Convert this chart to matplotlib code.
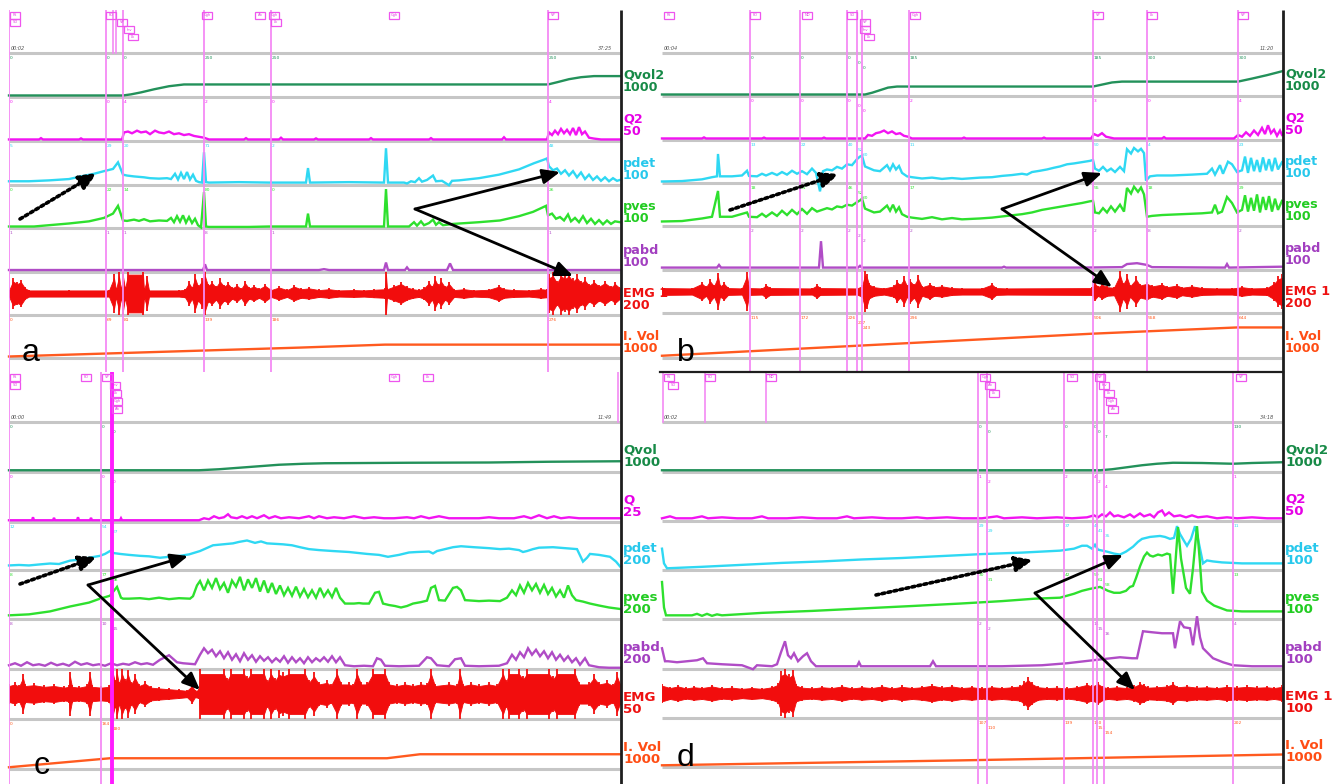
import numpy as np
import matplotlib
matplotlib.use("Agg")
import matplotlib.pyplot as plt
from matplotlib.patches import Rectangle

# ======================= DATA =======================
# time = samples from the start of each recording window, values in channel units
KINDS = ["qvol", "q", "pdet", "pves", "pabd", "emg", "ivol"]

NAMES_A = ["Qvol2", "Q2", "pdet", "pves", "pabd", "EMG 1", "I. Vol"]
SCALES_A = [1000, 50, 100, 100, 100, 200, 1000]
NAMES_B = ["Qvol2", "Q2", "pdet", "pves", "pabd", "EMG 1", "I. Vol"]
SCALES_B = [1000, 50, 100, 100, 100, 200, 1000]
NAMES_C = ["Qvol", "Q", "pdet", "pves", "pabd", "EMG", "I. Vol"]
SCALES_C = [1000, 25, 200, 200, 200, 50, 1000]
NAMES_D = ["Qvol2", "Q2", "pdet", "pves", "pabd", "EMG 1", "I. Vol"]
SCALES_D = [1000, 50, 100, 100, 100, 100, 1000]

TIMES_A = ("00:02", "37:25")
TIMES_B = ("00:04", "11:20")
TIMES_C = ("00:00", "11:49")
TIMES_D = ("00:02", "34:18")

# ---------- panel a ----------
A_QVOL = [(0, 0), (114, 0), (122, 25), (132, 70), (145, 140), (160, 210), (175, 250), (539, 250),
          (548, 300), (560, 370), (572, 415), (585, 440), (611, 440)]
A_Q = [(0, 0), (30, 0), (32, 1.5), (34, 0), (70, 0), (72, 1.2), (74, 0), (113, 0), (115, 8), (119, 9),
       (123, 7), (128, 10), (132, 8), (137, 9), (141, 6), (146, 10), (150, 8), (155, 7), (160, 9),
       (165, 6), (170, 7), (175, 5), (180, 6), (185, 4), (190, 3), (195, 2), (200, 0), (235, 0),
       (237, 1.5), (239, 0), (270, 0), (272, 2), (274, 0), (305, 0), (307, 1.2), (309, 0), (360, 0),
       (362, 1.5), (364, 0), (420, 0), (422, 1.5), (424, 0), (493, 0), (495, 2.5), (497, 0), (538, 0),
       (540, 8), (543, 5), (546, 10), (549, 6), (552, 12), (555, 7), (558, 11), (561, 6), (564, 13),
       (567, 5), (570, 14), (573, 6), (576, 9), (580, 2), (585, 1), (592, 0), (611, 0)]
A_PDET = [(0, 5), (20, 5), (40, 7), (60, 10), (74, 17), (85, 22), (95, 28), (104, 33), (109, 48),
          (114, 20), (118, 18), (125, 16), (135, 14), (141, 12), (150, 11), (158, 12), (162, 10),
          (166, 22), (169, 9), (172, 24), (175, 10), (178, 26), (181, 9), (184, 20), (187, 6), (190, 3),
          (193, 2), (195, 71), (197, 3), (200, 2), (230, 3), (260, 2), (297, 2), (299, 35), (301, 2),
          (340, 3), (375, 2), (377, 80), (379, 2), (395, 2), (398, 0), (402, 5), (406, 3), (410, 12),
          (413, 4), (418, 8), (424, 18), (427, 5), (433, 6), (440, -4), (443, 6), (450, 7), (470, 12),
          (490, 20), (510, 32), (525, 46), (536, 55), (538, 57), (540, 39), (544, 30), (548, 34),
          (552, 22), (556, 30), (560, 18), (564, 28), (568, 14), (572, 25), (576, 10), (580, 20),
          (584, 8), (588, 16), (592, 6), (596, 14), (600, 5), (604, 12), (608, 6), (611, 8)]
A_PVES = [(0, 0), (25, 0), (40, 3), (60, 7), (80, 12), (95, 20), (104, 30), (109, 48), (114, 14),
          (118, 13), (125, 16), (130, 13), (135, 17), (141, 12), (150, 14), (158, 13), (162, 20),
          (165, 10), (168, 24), (171, 11), (174, 26), (177, 9), (180, 22), (183, 8), (186, 18), (189, 3),
          (192, -2), (195, 80), (197, 0), (200, -1), (240, -1), (260, 0), (297, 0), (299, 30), (301, 0),
          (375, 0), (377, 87), (379, 0), (400, 0), (405, 10), (408, 2), (412, 12), (415, 3), (420, 8),
          (424, 16), (427, 4), (430, 10), (434, 3), (444, 6), (470, 10), (491, 14), (510, 24), (524, 34),
          (537, 48), (539, 26), (543, 30), (547, 18), (551, 22), (555, 14), (559, 28), (562, 12),
          (566, 20), (570, 10), (574, 24), (578, 8), (582, 18), (586, 6), (590, 15), (594, 5), (598, 14),
          (602, 6), (606, 12), (611, 10)]
A_PABD = [(0, 1), (194, 1), (196, 14), (198, 1), (310, 1), (315, 3), (320, 1), (375, 1), (377, 18),
          (379, 1), (396, 1), (398, 7), (400, 1), (438, 1), (441, 16), (444, 1), (611, 1)]
A_EMG = [(0, 18), (4, 70), (8, 55), (12, 65), (16, 30), (20, 18), (60, 18), (100, 18), (105, 90),
         (107, 20), (110, 100), (112, 20), (114, 100), (116, 25), (119, 110), (134, 110), (135, 20),
         (138, 80), (140, 18), (170, 18), (176, 22), (180, 60), (183, 30), (186, 90), (189, 40), (193, 70),
         (196, 100), (199, 45), (203, 60), (207, 35), (211, 70), (215, 40), (219, 55), (223, 30), (228, 45),
         (232, 25), (236, 60), (240, 30), (245, 40), (250, 25), (256, 45), (262, 20), (270, 35), (278, 20),
         (285, 40), (292, 25), (300, 30), (310, 20), (320, 25), (330, 18), (345, 20), (355, 18), (365, 22),
         (376, 25), (377, 110), (378, 25), (385, 40), (392, 55), (398, 35), (404, 25), (410, 20), (415, 30),
         (420, 60), (423, 35), (426, 80), (429, 45), (432, 70), (436, 35), (440, 55), (445, 20), (455, 25),
         (465, 18), (480, 22), (490, 40), (495, 25), (505, 20), (520, 18), (532, 25), (538, 22), (540, 90),
         (544, 100), (548, 60), (552, 100), (556, 85), (560, 100), (564, 70), (568, 90), (572, 60),
         (576, 75), (580, 45), (585, 65), (590, 40), (596, 60), (602, 35), (606, 55), (611, 30)]
A_IVOL = [(0, 0), (291, 207), (376, 276), (611, 276)]
A_EVENTS = [0, 97, 114, 195, 262, 539]
A_EVENTS_TOP = [104, 107]
A_THICK = []
A_BOXES = [(1, 0, "FS"), (1, 1, "SD"), (97, 0, "FD"), (108, 1, "VP"), (115, 2, "Inv"), (119, 3, "Lk"),
           (193, 0, "Cgh"), (246, 0, "Ab"), (260, 0, "Cgh"), (262, 1, "Lk"), (380, 0, "Cgh"), (539, 0, "VP")]

# ---------- panel b ----------
B_QVOL = [(0, 0), (203, 0), (210, 40), (218, 100), (226, 160), (235, 185), (431, 185), (440, 230),
          (450, 280), (460, 300), (576, 300), (590, 370), (605, 450), (620, 540)]
B_Q = [(0, 0), (40, 0), (42, 1.2), (44, 0), (100, 0), (102, 1), (104, 0), (160, 0), (162, 1), (164, 0),
       (203, 0), (206, 4), (210, 3), (214, 6), (218, 7), (222, 9), (226, 6), (230, 8), (234, 5), (238, 6),
       (242, 3), (246, 2), (250, 0), (300, 0), (302, 1), (304, 0), (380, 0), (382, 1), (384, 0), (429, 0),
       (432, 5), (436, 3), (440, 6), (444, 2), (448, 1), (452, 0), (500, 0), (502, 1.5), (504, 0),
       (572, 0), (576, 4), (580, 2), (584, 7), (588, 3), (592, 9), (596, 4), (600, 12), (603, 5),
       (606, 15), (609, 6), (612, 10), (615, 3), (618, 9), (620, 4)]
B_PDET = [(0, 0), (20, 1), (40, 5), (50, 10), (55, 12), (56, 64), (58, 12), (70, 12), (80, 14), (85, 25),
          (87, 13), (95, 12), (100, 18), (104, 14), (110, 20), (115, 15), (120, 22), (125, 16), (130, 25),
          (135, 18), (140, 24), (145, 17), (150, 30), (154, 20), (158, -23), (161, 24), (165, 28),
          (170, 26), (175, 34), (180, 30), (185, 40), (190, 38), (195, 52), (198, 58), (200, 60),
          (203, 35), (208, 30), (212, 26), (218, 24), (225, 38), (228, 26), (231, 40), (234, 28),
          (237, 36), (240, 20), (245, 12), (250, 10), (260, 7), (270, 9), (280, 6), (290, 8), (300, 6),
          (318, 9), (330, 10), (340, 13), (350, 15), (360, 18), (365, 16), (370, 22), (378, 25), (385, 28),
          (392, 32), (398, 35), (405, 40), (412, 42), (420, 45), (428, 48), (431, 50), (433, 30),
          (437, 25), (441, 34), (445, 24), (449, 30), (453, 22), (458, 34), (462, 24), (465, 75),
          (469, 65), (472, 78), (476, 70), (479, 76), (482, 66), (484, 2), (488, 12), (495, 14), (510, 14),
          (530, 16), (545, 18), (550, 30), (553, 16), (558, 38), (561, 18), (566, 46), (570, 40),
          (575, 22), (580, 26), (583, 58), (586, 20), (589, 55), (592, 24), (595, 50), (598, 22),
          (601, 56), (604, 26), (607, 52), (610, 24), (613, 55), (616, 28), (620, 45)]
B_PVES = [(0, 7), (20, 8), (40, 14), (50, 18), (56, 78), (58, 18), (70, 18), (85, 28), (87, 18),
          (95, 17), (100, 25), (104, 18), (110, 28), (115, 20), (120, 32), (125, 22), (130, 34), (135, 24),
          (140, 36), (145, 25), (150, 38), (155, 30), (160, 34), (165, 38), (170, 35), (175, 42), (180, 40),
          (185, 46), (190, 44), (195, 52), (198, 56), (200, 60), (203, 37), (208, 32), (212, 28), (218, 30),
          (225, 44), (228, 32), (231, 46), (234, 30), (237, 40), (240, 24), (245, 18), (250, 16), (260, 13),
          (270, 17), (280, 12), (290, 15), (300, 12), (318, 14), (330, 16), (345, 20), (360, 24), (370, 28),
          (380, 34), (390, 38), (400, 42), (410, 46), (420, 50), (428, 54), (431, 55), (433, 28), (437, 26),
          (441, 38), (445, 28), (449, 42), (453, 30), (458, 46), (462, 30), (465, 85), (469, 72), (472, 88),
          (476, 76), (479, 86), (482, 70), (485, 18), (490, 20), (500, 22), (520, 24), (540, 26), (550, 28),
          (553, 46), (556, 26), (560, 30), (565, 64), (570, 50), (575, 28), (580, 34), (583, 68), (586, 30),
          (589, 62), (592, 32), (595, 70), (598, 28), (601, 64), (604, 34), (607, 66), (610, 30), (613, 60),
          (616, 34), (620, 55)]
B_PABD = [(0, 2), (55, 2), (57, 8), (59, 2), (157, 2), (159, 62), (161, 2), (196, 2), (198, 6), (200, 2),
          (340, 2), (342, 4), (344, 2), (420, 2), (460, 3), (465, 10), (475, 12), (485, 8), (490, 3),
          (563, 2), (565, 10), (567, 2), (620, 4)]
B_EMG = [(0, 20), (30, 18), (40, 45), (44, 25), (48, 60), (52, 30), (56, 85), (58, 30), (62, 45), (66, 20),
         (80, 18), (85, 90), (87, 20), (100, 18), (104, 35), (108, 20), (150, 18), (155, 35), (158, 20),
         (195, 18), (200, 30), (203, 95), (205, 80), (207, 40), (212, 25), (222, 18), (232, 30), (235, 55),
         (238, 35), (242, 70), (245, 30), (248, 60), (252, 35), (256, 75), (260, 25), (268, 40), (272, 25),
         (280, 30), (290, 20), (300, 18), (320, 18), (330, 40), (334, 20), (345, 18), (430, 20), (433, 45),
         (436, 25), (440, 40), (445, 25), (452, 22), (458, 95), (461, 40), (465, 80), (468, 30), (474, 70),
         (478, 35), (485, 45), (490, 30), (500, 40), (505, 25), (515, 35), (520, 22), (530, 30), (540, 20),
         (555, 18), (570, 18), (580, 25), (590, 18), (605, 20), (612, 45), (616, 70), (620, 80)]
B_IVOL = [(0, 15), (431, 506), (575, 644), (620, 644)]
B_EVENTS = [88, 138, 185, 195, 200, 247, 431, 485, 576]
B_EVENTS_TOP = []
B_THICK = []
B_BOXES = [(2, 0, "FS"), (88, 0, "FD"), (140, 0, "ND"), (185, 0, "SD"), (198, 1, "VP"), (198, 2, "Inv"),
           (202, 3, "Lk"), (248, 0, "Cgh"), (431, 0, "VP"), (485, 0, "Lk"), (576, 0, "VP")]

# ---------- panel c ----------
C_QVOL = [(0, 0), (190, 0), (210, 20), (230, 50), (250, 80), (270, 110), (295, 130), (316, 140),
          (400, 150), (480, 155), (540, 170), (611, 180)]
C_Q = [(0, 0), (23, 0), (24, 1.5), (25, 0), (44, 0), (45, 1.2), (46, 0), (68, 0), (69, 1.5), (70, 0),
       (81, 0), (82, 1.2), (83, 0), (111, 0), (112, 1), (113, 0), (190, 0), (195, 1), (200, 0.5), (205, 2),
       (210, 1), (215, 1.5), (219, 3), (222, 1.5), (228, 1), (233, 2), (238, 1), (243, 2), (248, 1),
       (255, 2.5), (260, 1), (266, 2), (272, 1), (280, 1.5), (290, 1), (300, 2), (305, 1), (310, 2),
       (318, 1), (325, 1.5), (335, 1), (345, 2), (355, 1), (365, 1.5), (375, 1), (385, 1), (398, 1.5),
       (405, 1), (412, 2), (420, 1), (430, 2), (440, 1), (455, 1), (470, 1), (480, 1.5), (490, 1),
       (505, 1), (515, 2), (522, 1), (530, 2.5), (538, 1), (545, 2), (552, 1), (560, 1.5), (570, 1),
       (585, 1), (600, 1), (611, 1)]
C_PDET = [(0, 12), (10, 14), (20, 12), (30, 16), (41, 20), (50, 18), (61, 32), (70, 36), (80, 44), (91, 52),
          (96, 60), (101, 72), (104, 64), (111, 60), (120, 56), (131, 52), (140, 50), (151, 44), (160, 48),
          (171, 52), (180, 58), (191, 72), (204, 96), (214, 100), (224, 104), (230, 110), (238, 116),
          (246, 106), (252, 112), (258, 104), (266, 102), (274, 100), (283, 96), (291, 88), (300, 80),
          (310, 76), (324, 72), (340, 68), (358, 60), (370, 56), (379, 48), (390, 56), (400, 66), (408, 68),
          (420, 70), (424, 62), (428, 72), (436, 80), (444, 88), (452, 92), (465, 88), (480, 84), (491, 80),
          (500, 82), (510, 76), (514, 68), (518, 72), (524, 80), (530, 86), (544, 88), (556, 84), (568, 80),
          (574, 28), (578, 44), (581, 60), (590, 56), (601, 48), (607, 28), (611, 8)]
C_PVES = [(0, 8), (20, 12), (41, 24), (61, 44), (80, 60), (91, 76), (101, 88), (108, 124), (112, 80),
          (114, 76), (120, 76), (131, 78), (140, 74), (150, 80), (160, 74), (170, 78), (181, 76), (184, 86),
          (188, 130), (191, 148), (195, 110), (199, 150), (203, 120), (207, 160), (211, 115), (215, 140),
          (219, 100), (223, 150), (227, 125), (231, 165), (235, 110), (239, 155), (243, 120), (247, 160),
          (251, 105), (255, 150), (259, 100), (263, 140), (267, 95), (271, 130), (275, 90), (279, 120),
          (283, 88), (287, 125), (291, 85), (295, 115), (299, 82), (303, 110), (307, 80), (311, 120),
          (315, 85), (319, 110), (323, 82), (327, 120), (331, 80), (336, 56), (345, 56), (350, 58), (354, 56),
          (360, 56), (366, 100), (370, 104), (374, 56), (380, 50), (386, 46), (392, 40), (398, 46), (404, 56),
          (412, 62), (418, 68), (422, 120), (426, 128), (430, 70), (436, 68), (444, 120), (448, 124),
          (452, 110), (456, 70), (470, 66), (480, 68), (491, 66), (498, 80), (503, 110), (507, 90),
          (511, 130), (515, 100), (519, 140), (523, 110), (527, 136), (531, 100), (535, 132), (539, 95),
          (543, 120), (547, 85), (551, 110), (555, 80), (559, 130), (563, 90), (567, 70), (574, 64),
          (581, 56), (590, 48), (600, 40), (611, 34)]
C_PABD = [(0, 8), (6, 16), (12, 6), (18, 20), (24, 8), (30, 12), (36, 6), (42, 18), (48, 8), (54, 14),
          (60, 6), (66, 22), (72, 10), (78, 16), (84, 8), (90, 12), (96, 6), (102, 16), (108, 8), (114, 14),
          (120, 10), (126, 20), (132, 12), (138, 16), (144, 10), (151, 30), (156, 40), (160, 48), (164, 34),
          (168, 20), (174, 16), (180, 14), (186, 12), (191, 50), (195, 76), (199, 56), (203, 70), (207, 44),
          (211, 64), (215, 36), (219, 60), (223, 30), (227, 52), (231, 24), (235, 56), (239, 30), (243, 48),
          (247, 22), (251, 44), (255, 26), (259, 40), (263, 20), (267, 36), (271, 22), (275, 44), (279, 18),
          (283, 40), (287, 20), (291, 36), (295, 16), (299, 40), (303, 20), (307, 36), (311, 24), (315, 40),
          (319, 22), (323, 44), (327, 20), (331, 40), (336, 8), (345, 4), (355, 6), (364, 4), (368, 36),
          (372, 30), (376, 6), (390, 4), (410, 6), (418, 40), (422, 36), (428, 8), (440, 4), (446, 32),
          (452, 36), (456, 6), (470, 4), (490, 6), (498, 16), (503, 50), (507, 30), (511, 60), (515, 40),
          (519, 76), (523, 50), (527, 70), (531, 44), (535, 64), (539, 36), (543, 60), (547, 30), (551, 50),
          (555, 26), (559, 44), (563, 20), (567, 36), (571, 10), (576, 36), (580, 8), (590, 0), (600, -2),
          (611, -2)]
C_EMG = [(0, 10), (6, 12), (10, 9), (14, 20), (16, 10), (25, 11), (35, 9), (45, 10), (55, 8), (60, 9),
         (61, 22), (63, 9), (70, 8), (78, 10), (81, 22), (83, 9), (92, 8), (100, 9), (104, 25), (106, 14),
         (108, 25), (110, 12), (113, 25), (116, 15), (119, 24), (122, 12), (126, 20), (130, 10), (136, 13),
         (142, 8), (150, 7), (160, 6), (170, 5), (178, 4), (183, 10), (186, 4), (190, 5), (191, 25),
         (215, 25), (218, 16), (222, 25), (235, 25), (238, 18), (242, 25), (255, 25), (258, 14), (262, 25),
         (266, 16), (270, 24), (274, 22), (280, 25), (296, 25), (300, 14), (305, 22), (310, 12), (318, 14),
         (322, 10), (328, 25), (332, 12), (340, 12), (344, 10), (348, 25), (352, 12), (358, 12), (364, 25),
         (376, 25), (380, 12), (388, 10), (396, 12), (404, 10), (412, 12), (418, 11), (422, 25), (426, 10),
         (440, 12), (448, 10), (451, 25), (454, 10), (462, 12), (470, 10), (480, 12), (488, 10), (494, 25),
         (497, 14), (500, 25), (510, 25), (514, 18), (518, 25), (540, 25), (544, 18), (548, 25), (566, 25),
         (570, 12), (580, 12), (585, 20), (590, 12), (598, 14), (604, 10), (608, 22), (611, 12)]
C_IVOL = [(0, 0), (101, 180), (378, 180), (411, 260), (611, 260)]
C_EVENTS = [0, 92]
C_EVENTS_TOP = [609]
C_THICK = [103]
C_BOXES = [(1, 0, "FS"), (1, 1, "SD"), (72, 0, "FD"), (93, 0, "VP"), (101, 1, "Inv"), (102, 2, "Lk"),
           (103, 3, "Cgh"), (103, 4, "Ab"), (380, 0, "Cgh"), (414, 0, "Lk")]

# ---------- panel d ----------
D_QVOL = [(0, 0), (438, 0), (450, 20), (465, 60), (480, 100), (495, 130), (511, 150), (540, 145),
          (571, 130), (590, 145), (620, 160)]
D_Q = [(0, 1), (8, 3), (14, 1), (30, 1), (40, 3), (46, 1), (60, 2), (75, 1), (90, 1), (100, 3), (106, 1),
       (125, 1), (140, 2), (155, 1), (175, 1), (185, 3), (192, 1), (210, 2), (225, 1), (240, 1), (255, 2),
       (265, 1), (285, 2), (300, 1), (320, 1), (335, 3), (342, 1), (360, 2), (375, 1), (395, 2), (410, 1),
       (425, 2), (432, 4), (436, 2), (440, 5), (444, 3), (448, 7), (452, 3), (456, 4), (462, 2), (468, 5),
       (472, 2), (478, 6), (482, 3), (488, 5), (492, 2), (496, 7), (500, 9), (503, 4), (507, 7), (512, 3),
       (518, 4), (524, 2), (530, 4), (536, 2), (545, 3), (555, 1), (565, 2), (575, 1), (590, 2), (605, 1),
       (620, 1)]
D_PDET = [(0, 40), (2, 10), (5, 0), (40, 3), (80, 7), (120, 11), (160, 14), (200, 18), (240, 21), (280, 25),
          (320, 29), (360, 32), (398, 36), (412, 40), (420, 46), (425, 46), (430, 40), (433, 48), (436, 38),
          (445, 34), (452, 30), (458, 28), (464, 34), (471, 44), (476, 54), (480, 60), (488, 64), (498, 66),
          (503, 64), (508, 60), (512, 62), (515, 86), (518, 70), (522, 56), (525, 46), (529, 60), (533, 86),
          (536, 60), (541, 10), (545, 16), (551, 14), (560, 12), (580, 10), (600, 10), (620, 10)]
D_PVES = [(0, 72), (2, 20), (4, 4), (30, 4), (35, 7), (40, 3), (45, 7), (50, 3), (55, 6), (60, 4),
          (100, 9), (150, 13), (200, 18), (250, 23), (298, 28), (340, 33), (373, 38), (398, 40), (412, 48),
          (420, 54), (428, 58), (438, 62), (446, 54), (452, 50), (458, 50), (464, 54), (468, 62), (471, 64),
          (474, 80), (478, 104), (482, 124), (485, 132), (488, 126), (491, 124), (496, 128), (500, 126),
          (505, 130), (508, 128), (511, 48), (513, 100), (516, 184), (519, 120), (524, 60), (528, 48),
          (531, 100), (535, 186), (538, 110), (540, 52), (545, 34), (552, 24), (565, 14), (580, 12),
          (600, 12), (620, 12)]
D_PABD = [(0, 38), (3, 12), (6, 12), (15, 10), (25, 12), (35, 14), (41, 18), (45, 8), (60, 6), (80, 4),
          (91, -4), (95, 4), (110, 2), (115, 6), (119, 30), (123, 52), (126, 24), (129, 18), (132, 28),
          (136, 12), (141, 22), (145, 28), (149, 12), (154, 2), (170, 2), (195, 2), (197, 10), (199, 2),
          (268, 2), (271, 12), (274, 2), (340, 2), (380, 4), (405, 8), (431, 14), (458, 20), (470, 18),
          (475, 18), (481, 72), (490, 70), (500, 68), (511, 68), (513, 38), (518, 92), (522, 80), (528, 78),
          (531, 44), (535, 102), (538, 60), (541, 38), (551, 18), (561, 10), (571, 4), (590, 2), (620, 2)]
D_EMG = [(0, 20), (8, 14), (16, 18), (24, 13), (32, 16), (40, 14), (50, 18), (60, 13), (70, 15), (80, 12),
         (90, 14), (100, 12), (110, 16), (116, 22), (119, 45), (123, 50), (127, 40), (131, 48), (134, 20),
         (140, 15), (150, 13), (160, 16), (170, 14), (180, 18), (190, 13), (200, 16), (210, 14), (220, 18),
         (230, 13), (240, 17), (250, 14), (260, 16), (270, 20), (280, 15), (290, 18), (300, 14), (310, 16),
         (320, 13), (330, 16), (340, 14), (350, 16), (358, 18), (362, 26), (366, 34), (370, 24), (376, 16),
         (385, 14), (395, 15), (405, 13), (415, 16), (425, 22), (430, 18), (436, 24), (441, 16), (446, 14),
         (455, 16), (465, 14), (472, 17), (478, 24), (482, 20), (486, 15), (495, 16), (505, 18), (511, 24),
         (515, 16), (525, 18), (535, 15), (545, 16), (555, 14), (565, 17), (575, 15), (585, 17), (595, 15),
         (605, 16), (612, 14), (620, 17)]
D_IVOL = [(0, 0), (298, 100), (620, 220)]
D_EVENTS = [316, 325, 402, 431, 435, 442, 571]
D_EVENTS_TOP = [1, 43, 104]
D_THICK = []
D_BOXES = [(2, 0, "FS"), (6, 1, "SD"), (43, 0, "FD"), (104, 0, "ND"), (318, 0, "Cgh"), (323, 1, "Ab"),
           (327, 2, "Lk"), (405, 0, "SD"), (433, 0, "VP"), (437, 1, "Inv"), (442, 2, "Lk"), (444, 3, "Cgh"),
           (446, 4, "Ab"), (574, 0, "VP")]

# ======================= LAYOUT / STYLE =======================
W, H = 1336, 784
PANELS = {
    "a": dict(x0=9, x1=620, top=10, bottom=372, grays=[53, 97, 141, 185, 228, 272, 315, 358], lvl=7.2),
    "b": dict(x0=662, x1=1282, top=10, bottom=372, grays=[53, 96, 140, 183, 226, 270, 313, 358], lvl=7.2),
    "c": dict(x0=9, x1=620, top=372, bottom=784, grays=[422, 472, 522, 570, 619, 669, 719, 769], lvl=8.0),
    "d": dict(x0=662, x1=1282, top=372, bottom=784, grays=[422, 472, 521, 570, 619, 669, 718, 767], lvl=8.0),
}
COL = dict(qvol="#23915a", q="#f214f2", pdet="#2fd8f3", pves="#2ee02e", pabd="#b04cc6",
           emg="#f20d0d", ivol="#ff5a1f")
LCOL = dict(qvol="#178a47", q="#e600e6", pdet="#27c8ec", pves="#22cc22", pabd="#a23fc0",
            emg="#ee1111", ivol="#ff4d14")
GRAY = "#c6c6c6"
MAG = "#f48af4"
LABEL_FONT = ["DejaVu Sans"]
LETTER_FONT = ["Liberation Sans", "DejaVu Sans"]

fig = plt.figure(figsize=(W / 100, H / 100), dpi=100)
fig.patch.set_facecolor("white")


def px_axes(x0, y0, x1, y1):
    return fig.add_axes([x0 / W, 1 - y1 / H, (x1 - x0) / W, (y1 - y0) / H])


def stack_levels(evs):
    """vertical stacking index for read-outs of events that lie close together"""
    lv, out, prev = 0, [], None
    for e in sorted(evs):
        lv = lv + 1 if (prev is not None and e - prev < 14) else 0
        out.append((e, lv))
        prev = e
    return out


def draw_panel(key, traces, emg, names, scales, events, events_top, thick, boxes, times, label_size):
    P = PANELS[key]
    x0, x1, g = P["x0"], P["x1"], P["grays"]
    width = x1 - x0
    ev_levels = stack_levels(events + thick)
    # ---- channel bands ----
    for k, kind in enumerate(KINDS):
        ax = px_axes(x0, g[k], x1, g[k + 1])
        ax.set_xlim(0, width)
        full = scales[k]
        if kind == "emg":
            ax.set_ylim(-full / 2, full / 2)
        else:
            lo = -0.035 * full
            ax.set_ylim(lo, lo + full)
        ax.axis("off")
        ax.patch.set_alpha(0)
        ax.plot([0, 1], [0, 0], transform=ax.transAxes, color=GRAY, lw=2.2,
                solid_capstyle="butt", clip_on=False, zorder=1)
        if k == 0:
            ax.plot([0, 1], [1, 1], transform=ax.transAxes, color=GRAY, lw=2.2,
                    solid_capstyle="butt", clip_on=False, zorder=1)
        if kind == "emg":
            t, a = zip(*emg)
            a = np.asarray(a, dtype=float)
            ax.fill_between(t, -a * 0.8, a * 0.8, color=COL["emg"], lw=0.6, zorder=3)
            ax.vlines(t, -a, a, color=COL["emg"], lw=1.3, zorder=3)
        else:
            t, v = zip(*traces[k])
            ax.plot(t, v, color=COL[kind], lw=1.7, clip_on=False, zorder=3,
                    solid_joinstyle="miter")
            # value read-outs printed at each event line (top of band)
            for e, lv in ev_levels:
                val = np.interp(e, t, v)
                ax.annotate(f"{val:.0f}", xy=(e, 1), xycoords=("data", "axes fraction"),
                            xytext=(1, -5 - 5 * lv), textcoords="offset pixels", fontsize=3.2,
                            color=COL[kind], ha="left", va="center", annotation_clip=False)
        ax.annotate(f"{names[k]}\n{full}", xy=(1, 0), xycoords="axes fraction",
                    xytext=(3, 3), textcoords="offset pixels", ha="left", va="bottom",
                    fontsize=label_size, fontweight="bold", color=LCOL[kind], linespacing=0.92,
                    family=LABEL_FONT, annotation_clip=False)
    # ---- event markers ----
    mk = px_axes(x0, P["top"], x1, P["bottom"])
    mk.set_xlim(0, width)
    mk.set_ylim(P["bottom"], P["top"])
    mk.axis("off")
    mk.patch.set_alpha(0)
    for e in events:
        mk.axvline(e, color=MAG, lw=1.3, zorder=2)
    for e in thick:
        mk.axvline(e, color="#ff1cff", lw=2.8, zorder=2)
    for e in events_top:
        mk.plot([e, e], [P["top"], g[0]], color=MAG, lw=1.2, zorder=2)
    for (e, lvl, txt) in boxes:
        yb = P["top"] + 2 + lvl * P["lvl"]
        mk.add_patch(Rectangle((e, yb), 10, 6.5, fill=False, ec="#ee55ee", lw=0.9, zorder=4))
        mk.text(e + 5, yb + 3.2, txt, fontsize=2.6, color="#e040e0", ha="center", va="center", zorder=4)
    mk.text(2, g[0] - 5, times[0], fontsize=3.6, color="#555555", ha="left", va="center", style="italic")
    mk.text(width - 22, g[0] - 5, times[1], fontsize=3.6, color="#555555", ha="left", va="center",
            style="italic")


draw_panel("a", [A_QVOL, A_Q, A_PDET, A_PVES, A_PABD, None, A_IVOL], A_EMG, NAMES_A, SCALES_A,
           A_EVENTS, A_EVENTS_TOP, A_THICK, A_BOXES, TIMES_A, 9.2)
draw_panel("b", [B_QVOL, B_Q, B_PDET, B_PVES, B_PABD, None, B_IVOL], B_EMG, NAMES_B, SCALES_B,
           B_EVENTS, B_EVENTS_TOP, B_THICK, B_BOXES, TIMES_B, 9.2)
draw_panel("c", [C_QVOL, C_Q, C_PDET, C_PVES, C_PABD, None, C_IVOL], C_EMG, NAMES_C, SCALES_C,
           C_EVENTS, C_EVENTS_TOP, C_THICK, C_BOXES, TIMES_C, 9.6)
draw_panel("d", [D_QVOL, D_Q, D_PDET, D_PVES, D_PABD, None, D_IVOL], D_EMG, NAMES_D, SCALES_D,
           D_EVENTS, D_EVENTS_TOP, D_THICK, D_BOXES, TIMES_D, 9.6)

# ---- overlay: borders, panel letters, arrows (pixel layout) ----
ov = fig.add_axes([0, 0, 1, 1])
ov.set_xlim(0, W)
ov.set_ylim(H, 0)
ov.axis("off")
ov.patch.set_alpha(0)
for xb in (621, 1283):
    ov.plot([xb, xb], [10, H], color="#1e1e1e", lw=2.0, solid_capstyle="butt")
ov.plot([660, 1283], [372, 372], color="#1e1e1e", lw=1.6)

for letter, (lx, ly) in {"a": (22, 361), "b": (677, 361), "c": (34, 774), "d": (677, 766)}.items():
    ov.text(lx, ly, letter, fontsize=23, color="black", va="baseline", ha="left", family=LETTER_FONT)


def arrow(p0, p1, dotted=False):
    ov.annotate("", xy=p1, xytext=p0,
                arrowprops=dict(arrowstyle="-|>,head_length=0.75,head_width=0.32",
                                color="black", lw=2.6 if dotted else 2.0,
                                linestyle=(0, (0.8, 0.9)) if dotted else "-",
                                shrinkA=0, shrinkB=0, mutation_scale=14))


arrow((20, 219), (97, 173), dotted=True)
arrow((415, 209), (560, 172))
arrow((415, 209), (573, 276))
arrow((730, 210), (839, 174), dotted=True)
arrow((1002, 209), (1102, 173))
arrow((1002, 209), (1112, 287))
arrow((20, 584), (97, 557), dotted=True)
arrow((88, 585), (188, 556))
arrow((88, 585), (200, 690))
arrow((876, 595), (1033, 560), dotted=True)
arrow((1035, 593), (1123, 555))
arrow((1035, 593), (1135, 690))

fig.savefig("out.png", dpi=100)
